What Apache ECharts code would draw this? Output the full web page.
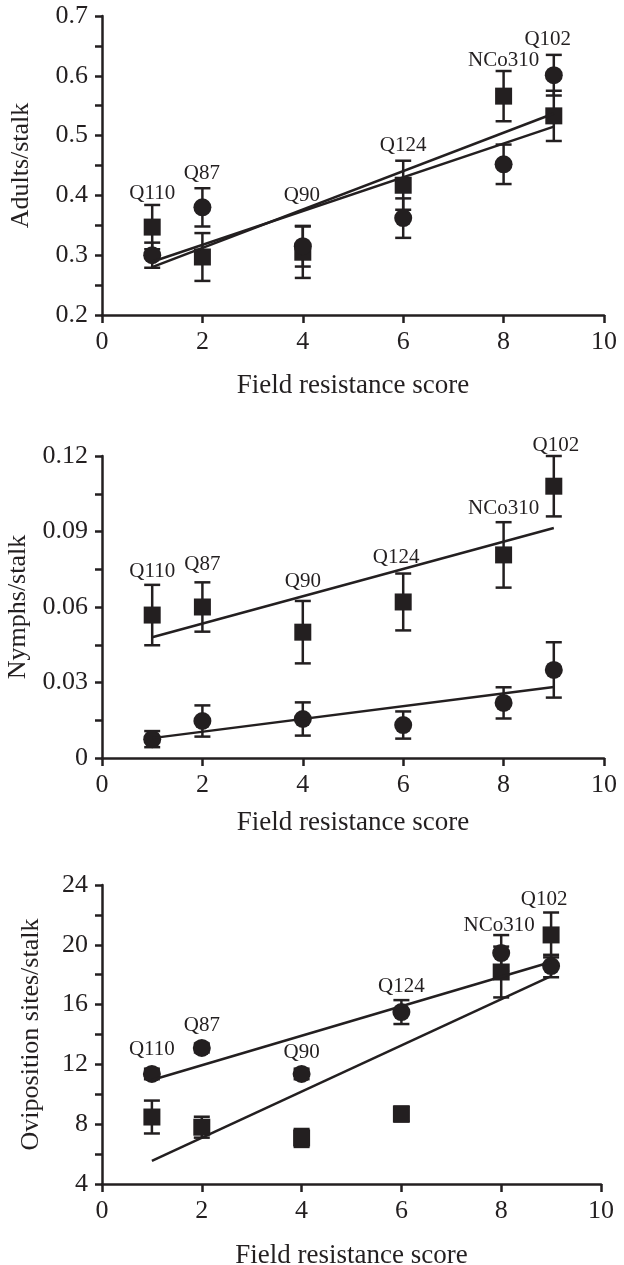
<!DOCTYPE html>
<html>
<head>
<meta charset="utf-8">
<script src="https://cdn.jsdelivr.net/npm/echarts@6/dist/echarts.min.js"></script>
<style>
  html, body { margin: 0; padding: 0; background: #fff; }
  #chart { width: 624px; height: 1265px; }
</style>
</head>
<body>
<div id="chart"></div>
<script>
// field resistance scores and cultivar names
var scores = [1, 2, 4, 6, 8, 9];
var cultivars = ['Q110', 'Q87', 'Q90', 'Q124', 'NCo310', 'Q102'];

// adults/stalk
var adultsSquare = [0.347, 0.297, 0.305, 0.417, 0.566, 0.533];
var adultsSquareErr = [0.037, 0.040, 0.043, 0.041, 0.042, 0.042];
var adultsCircle = [0.300, 0.380, 0.315, 0.362, 0.452, 0.601];
var adultsCircleErr = [0.021, 0.032, 0.034, 0.033, 0.033, 0.034];
var adultsSquareFit = [0.280, 0.537];
var adultsCircleFit = [0.289, 0.515];
var adultsLabelX = [1.0, 1.99, 3.98, 6.0, 8.0, 8.88];
var adultsLabelY = [0.404, 0.437, 0.400, 0.483, 0.626, 0.660];

// nymphs/stalk
var nymphsSquare = [0.0568, 0.0600, 0.0500, 0.0620, 0.0807, 0.1080];
var nymphsSquareErr = [0.0120, 0.0098, 0.0124, 0.0113, 0.0130, 0.0120];
var nymphsCircle = [0.0075, 0.0147, 0.0155, 0.0131, 0.0219, 0.0350];
var nymphsCircleErr = [0.0032, 0.0062, 0.0066, 0.0054, 0.0062, 0.0110];
var nymphsSquareFit = [0.0480, 0.0914];
var nymphsCircleFit = [0.0079, 0.0282];
var nymphsLabelX = [1.0, 2.0, 4.0, 5.86, 8.0, 9.04];
var nymphsLabelY = [0.0743, 0.0767, 0.0700, 0.0795, 0.0990, 0.1243];

// oviposition sites/stalk
var ovipSquare = [8.48, 7.80, 7.08, 8.68, 18.18, 20.66];
var ovipSquareErr = [1.1, 0.7, 0.6, 0.5, 1.7, 1.5];
var ovipCircle = [11.36, 13.10, 11.36, 15.50, 19.45, 18.58];
var ovipCircleErr = [0.35, 0.30, 0.35, 0.80, 1.20, 0.75];
var ovipSquareFit = [5.54, 17.90];
var ovipCircleFit = [10.96, 18.85];
var ovipLabelX = [1.0, 2.0, 4.0, 6.0, 7.96, 8.86];
var ovipLabelY = [13.03, 14.57, 12.83, 17.24, 21.26, 23.06];

var ink = '#231f20';
var serif = '"Liberation Serif", "DejaVu Serif", serif';

var panels = [
  { name: 'Adults/stalk', min: 0.2, max: 0.7, interval: 0.1, fmt: function (v) { return v.toFixed(1); },
    sq: adultsSquare, sqErr: adultsSquareErr, ci: adultsCircle, ciErr: adultsCircleErr,
    sqFit: adultsSquareFit, ciFit: adultsCircleFit, labelX: adultsLabelX, labelY: adultsLabelY,
    xGap: 57, yGap: 68,
    grid: { left: 102, width: 502, top: 16, height: 299 } },
  { name: 'Nymphs/stalk', min: 0, max: 0.12, interval: 0.03, fmt: function (v) { return v === 0 ? '0' : v.toFixed(2); },
    sq: nymphsSquare, sqErr: nymphsSquareErr, ci: nymphsCircle, ciErr: nymphsCircleErr,
    sqFit: nymphsSquareFit, ciFit: nymphsCircleFit, labelX: nymphsLabelX, labelY: nymphsLabelY,
    xGap: 51, yGap: 68,
    grid: { left: 102, width: 502, top: 456, height: 302 } },
  { name: 'Oviposition sites/stalk', min: 4, max: 24, interval: 4, fmt: function (v) { return String(Math.round(v)); },
    sq: ovipSquare, sqErr: ovipSquareErr, ci: ovipCircle, ciErr: ovipCircleErr,
    sqFit: ovipSquareFit, ciFit: ovipCircleFit, labelX: ovipLabelX, labelY: ovipLabelY,
    xGap: 58, yGap: 58,
    grid: { left: 102, width: 499, top: 885, height: 299 } }
];

function errorBars(params, api) {
  var x = api.value(0), y = api.value(1), e = api.value(2);
  var top = api.coord([x, y + e]);
  var bot = api.coord([x, y - e]);
  var h = 8;
  var st = { stroke: ink, lineWidth: 2.5 };
  return {
    type: 'group',
    children: [
      { type: 'line', shape: { x1: top[0], y1: top[1], x2: bot[0], y2: bot[1] }, style: st },
      { type: 'line', shape: { x1: top[0] - h, y1: top[1], x2: top[0] + h, y2: top[1] }, style: st },
      { type: 'line', shape: { x1: bot[0] - h, y1: bot[1], x2: bot[0] + h, y2: bot[1] }, style: st }
    ]
  };
}

var grids = [], xAxes = [], yAxes = [], series = [];

panels.forEach(function (p, i) {
  var g = p.grid;
  g.containLabel = false;
  g.outerBoundsMode = 'none';
  grids.push(g);
  xAxes.push({
    gridIndex: i, type: 'value', min: 0, max: 10, interval: 2,
    name: 'Field resistance score', nameLocation: 'middle', nameGap: p.xGap,
    nameTextStyle: { fontFamily: serif, fontSize: 27, color: ink },
    axisLine: { lineStyle: { color: ink, width: 2.5 } },
    axisTick: { lineStyle: { color: ink, width: 2.5 }, length: 8 },
    axisLabel: { fontFamily: serif, fontSize: 26, color: ink, margin: 14 },
    splitLine: { show: false }
  });
  yAxes.push({
    gridIndex: i, type: 'value', min: p.min, max: p.max, interval: p.interval,
    name: p.name, nameLocation: 'middle', nameGap: p.yGap,
    nameTextStyle: { fontFamily: serif, fontSize: 26, color: ink },
    axisLine: { show: true, lineStyle: { color: ink, width: 2.5 } },
    axisTick: { show: true, lineStyle: { color: ink, width: 2.5 }, length: 7 },
    minorTick: { show: true, splitNumber: 2, length: 7, lineStyle: { color: ink, width: 2.5 } },
    axisLabel: { fontFamily: serif, fontSize: 26, color: ink, margin: 14, formatter: p.fmt },
    splitLine: { show: false }
  });

  var sqData = scores.map(function (s, k) { return [s, p.sq[k], p.sqErr[k]]; });
  var ciData = scores.map(function (s, k) { return [s, p.ci[k], p.ciErr[k]]; });

  series.push({ type: 'custom', xAxisIndex: i, yAxisIndex: i, renderItem: errorBars, data: sqData, z: 2, silent: true, clip: false });
  series.push({ type: 'custom', xAxisIndex: i, yAxisIndex: i, renderItem: errorBars, data: ciData, z: 2, silent: true, clip: false });
  series.push({ type: 'scatter', xAxisIndex: i, yAxisIndex: i, symbol: 'rect', symbolSize: 17,
    itemStyle: { color: ink, opacity: 1 }, data: sqData, z: 3 });
  series.push({ type: 'scatter', xAxisIndex: i, yAxisIndex: i, symbol: 'circle', symbolSize: 18,
    itemStyle: { color: ink, opacity: 1 }, data: ciData, z: 3 });
  series.push({ type: 'line', xAxisIndex: i, yAxisIndex: i, symbol: 'none',
    lineStyle: { color: ink, width: 2.5 }, data: [[scores[0], p.sqFit[0]], [scores[5], p.sqFit[1]]], z: 4 });
  series.push({ type: 'line', xAxisIndex: i, yAxisIndex: i, symbol: 'none',
    lineStyle: { color: ink, width: 2.5 }, data: [[scores[0], p.ciFit[0]], [scores[5], p.ciFit[1]]], z: 4 });
  series.push({ type: 'scatter', xAxisIndex: i, yAxisIndex: i, symbolSize: 1, clip: false,
    itemStyle: { color: 'rgba(0,0,0,0)', opacity: 1 },
    label: { show: true, position: 'inside', formatter: '{b}', fontFamily: serif, fontSize: 21, color: ink, opacity: 1 },
    data: cultivars.map(function (c, k) { return { name: c, value: [p.labelX[k], p.labelY[k]] }; }),
    z: 5, silent: true });
});

var chart = echarts.init(document.getElementById('chart'));
chart.setOption({
  animation: false,
  backgroundColor: '#fff',
  grid: grids,
  xAxis: xAxes,
  yAxis: yAxes,
  series: series
});
</script>
</body>
</html>
